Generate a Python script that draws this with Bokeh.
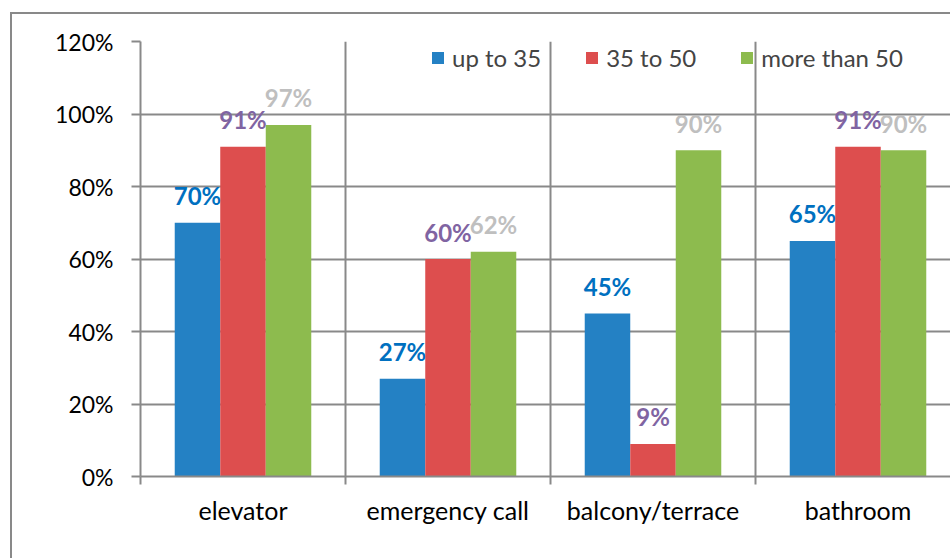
import numpy as np
from bokeh.plotting import figure
from bokeh.models import (Range1d, FixedTicker, PrintfTickFormatter, Legend, LegendItem,
                          ColumnDataSource)
from bokeh.core.properties import value
from bokeh.embed import file_html
from bokeh.resources import INLINE

categories = ["elevator", "emergency call", "balcony/terrace", "bathroom"]
series_names = ["up to 35", "35 to 50", "more than 50"]
up_to_35 = [70, 27, 45, 65]
from_35_to_50 = [91, 60, 9, 91]
more_than_50 = [97, 62, 90, 90]
y_ticks = [0, 20, 40, 60, 80, 100, 120]

bar_colors = ["#2481C4", "#DD4E4E", "#8DBB4E"]
label_colors = ["#0070C0", "#8064A2", "#BFBFBF"]
grid_color = "#898989"
FONT = "Lato"

# the chart area border runs along the left and top; the chart continues past the right/bottom
p = figure(width=940, height=546, output_backend="svg", toolbar_location=None,
           x_range=Range1d(0, 812 / 205), y_range=Range1d(0, 120),
           min_border_left=128, min_border_right=0, min_border_top=27, min_border_bottom=84,
           styles={"margin-left": "10px", "margin-top": "12px",
                   "border-left": f"2px solid {grid_color}",
                   "border-top": f"2px solid {grid_color}"})
p.outline_line_color = None
p.background_fill_color = "white"
p.border_fill_color = "white"

# x axis: labels at category centres, ticks on category boundaries
centres = np.arange(len(categories)) + 0.5
p.xaxis.ticker = FixedTicker(ticks=list(centres), minor_ticks=list(range(len(categories) + 1)))
p.xaxis.major_label_overrides = {float(c): n for c, n in zip(centres, categories)}
p.xaxis.major_tick_out = 0
p.xaxis.major_tick_in = 0
p.xaxis.minor_tick_out = 8
p.xaxis.minor_tick_in = 0
p.xaxis.major_label_standoff = 10

p.yaxis.ticker = FixedTicker(ticks=y_ticks)
p.yaxis.formatter = PrintfTickFormatter(format="%d%%")
p.yaxis.major_tick_out = 9
p.yaxis.major_tick_in = 0
p.yaxis.major_label_standoff = 18

for ax, minor in ((p.xaxis[0], True), (p.yaxis[0], False)):
    ax.axis_line_color = grid_color
    ax.axis_line_width = 2
    ax.major_tick_line_color = grid_color
    ax.major_tick_line_width = 2
    ax.minor_tick_line_color = grid_color if minor else None
    ax.minor_tick_line_width = 2
    ax.major_label_text_font = FONT
    ax.major_label_text_color = "#000000"
p.xaxis.major_label_text_font_size = "25px"
p.yaxis.major_label_text_font_size = "23px"

p.xgrid.ticker = FixedTicker(ticks=list(range(len(categories) + 1)))
p.xgrid.grid_line_color = grid_color
p.xgrid.grid_line_width = 2
p.ygrid.grid_line_color = grid_color
p.ygrid.grid_line_width = 2

bar_w = 0.222
offsets = [-bar_w, 0.0, bar_w]
items = []
for name, vals, off, col, lcol in zip(series_names, [up_to_35, from_35_to_50, more_than_50],
                                      offsets, bar_colors, label_colors):
    src = ColumnDataSource(dict(x=centres + off, top=vals,
                                label=[f"{v}%" for v in vals]))
    r = p.vbar(x="x", top="top", width=bar_w, source=src, fill_color=col, line_color=None)
    p.text(x="x", y="top", text="label", source=src, text_align="center",
           text_baseline="alphabetic", y_offset=-27, text_color=lcol,
           text_font=value(FONT), text_font_style="bold", text_font_size="24px")
    items.append(LegendItem(label=name, renderers=[r]))

legend = Legend(items=items, orientation="horizontal", location=(290, 404),
                padding=0, margin=0, spacing=43, glyph_width=15, glyph_height=15,
                label_standoff=7, label_text_font=FONT, label_text_font_size="24px",
                border_line_color=None, background_fill_alpha=0)
p.add_layout(legend)

open("out.html", "w").write(file_html(p, INLINE))
